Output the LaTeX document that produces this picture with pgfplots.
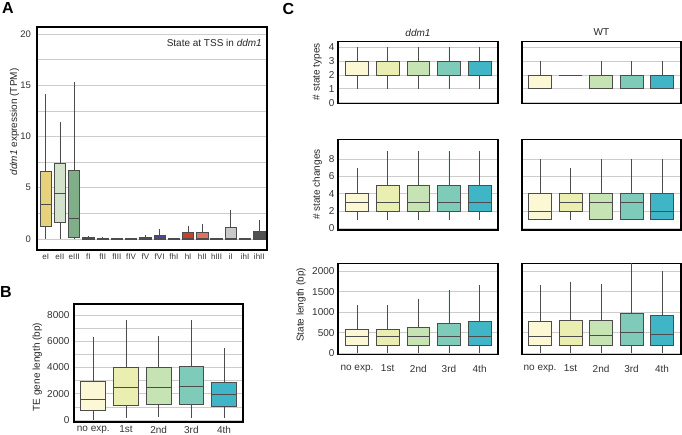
\documentclass[border=0pt]{standalone}
\usepackage{pgfplots}
\pgfplotsset{compat=1.18}
\usepgfplotslibrary{statistics}
\usepackage{fontspec}
\setmainfont{Liberation Sans}
\setsansfont{Liberation Sans}
\definecolor{cNo}{HTML}{FCF7D5}
\definecolor{cA}{HTML}{EAEEB0}
\definecolor{cB}{HTML}{C6E3B3}
\definecolor{cC}{HTML}{7FCBB9}
\definecolor{cD}{HTML}{3FB5C6}
\definecolor{eI}{HTML}{E6D27C}
\definecolor{eII}{HTML}{D2E2CB}
\definecolor{eIII}{HTML}{7FAE88}
\definecolor{fI}{HTML}{8A9C9E}
\definecolor{fII}{HTML}{5A5F63}
\definecolor{fIII}{HTML}{555555}
\definecolor{fIV}{HTML}{5A5A6A}
\definecolor{fV}{HTML}{7B6CBB}
\definecolor{fVI}{HTML}{5A3B9F}
\definecolor{fhI}{HTML}{666666}
\definecolor{hI}{HTML}{C7412D}
\definecolor{hII}{HTML}{E0725F}
\definecolor{hIII}{HTML}{444444}
\definecolor{iI}{HTML}{C9C9C9}
\definecolor{ihI}{HTML}{555555}
\definecolor{ihII}{HTML}{505050}
\begin{document}
\begin{tikzpicture}
\useasboundingbox (0pt,0pt) rectangle (682pt,435pt);
\pgfplotsset{
  panel/.style={scale only axis, anchor=south west,
    axis line style={black, line width=1.2pt},
    ymajorgrids, yminorgrids,
    major grid style={black!20, line width=0.7pt},
    minor grid style={black!20, line width=0.7pt},
    major tick length=0pt, minor tick length=0pt,
    tick style={draw=none},
    ticklabel style={font=\fontsize{10}{12}\selectfont, text=black!80},
    xtick={1,2,3,4,5},
    boxplot/draw direction=y, boxplot/whisker extend=0,
    /pgf/number format/assume math mode=true,
    /pgf/number format/1000 sep={},
    scaled y ticks=false},
  bx/.style={draw=black!70, line width=0.8pt, fill=#1},
}
% ---------------- Panel A
\begin{axis}[panel, at={(37pt,185pt)}, width=230pt, height=223pt,
  xmin=0.39, xmax=16.54, ymin=-1.07, ymax=20.68,
  ytick={0,5,10,15,20}, minor ytick={2.5,7.5,12.5,17.5},
  xtick={1,...,16},
  xticklabels={eI,eII,eIII,fI,fII,fIII,fIV,fV,fVI,fhI,hI,hII,hIII,iI,ihI,ihII},
  xticklabel style={font=\fontsize{8}{9}\selectfont},
  yticklabel style={font=\fontsize{9.5}{11}\selectfont, xshift=-2.5pt},
  boxplot/box extend=0.8]
\addplot[bx=eI, boxplot prepared={draw position=1, lower whisker=0, lower quartile=1.2, median=3.4, upper quartile=6.6, upper whisker=14.1}] coordinates {};
\addplot[bx=eII, boxplot prepared={draw position=2, lower whisker=0, lower quartile=1.65, median=4.45, upper quartile=7.4, upper whisker=11.45}] coordinates {};
\addplot[bx=eIII, boxplot prepared={draw position=3, lower whisker=0, lower quartile=0.2, median=2.05, upper quartile=6.65, upper whisker=15.3}] coordinates {};
\addplot[bx=fI, boxplot prepared={draw position=4, lower whisker=0, lower quartile=0, median=0.05, upper quartile=0.15, upper whisker=0.3}] coordinates {};
\addplot[bx=fII, boxplot prepared={draw position=5, lower whisker=0, lower quartile=0, median=0.03, upper quartile=0.1, upper whisker=0.2}] coordinates {};
\addplot[bx=fIII, boxplot prepared={draw position=6, lower whisker=0, lower quartile=0, median=0, upper quartile=0.03, upper whisker=0.05}] coordinates {};
\addplot[bx=fIV, boxplot prepared={draw position=7, lower whisker=0, lower quartile=0, median=0.01, upper quartile=0.05, upper whisker=0.08}] coordinates {};
\addplot[bx=fV, boxplot prepared={draw position=8, lower whisker=0, lower quartile=0, median=0.05, upper quartile=0.2, upper whisker=0.35}] coordinates {};
\addplot[bx=fVI, boxplot prepared={draw position=9, lower whisker=0, lower quartile=0, median=0.1, upper quartile=0.4, upper whisker=0.95}] coordinates {};
\addplot[bx=fhI, boxplot prepared={draw position=10, lower whisker=0, lower quartile=0, median=0, upper quartile=0.02, upper whisker=0.04}] coordinates {};
\addplot[bx=hI, boxplot prepared={draw position=11, lower whisker=0, lower quartile=0, median=0.05, upper quartile=0.6, upper whisker=1.25}] coordinates {};
\addplot[bx=hII, boxplot prepared={draw position=12, lower whisker=0, lower quartile=0, median=0.1, upper quartile=0.6, upper whisker=1.5}] coordinates {};
\addplot[bx=hIII, boxplot prepared={draw position=13, lower whisker=0, lower quartile=0, median=0, upper quartile=0.05, upper whisker=0.1}] coordinates {};
\addplot[bx=iI, boxplot prepared={draw position=14, lower whisker=0, lower quartile=0, median=0.1, upper quartile=1.15, upper whisker=2.85}] coordinates {};
\addplot[bx=ihI, boxplot prepared={draw position=15, lower whisker=0, lower quartile=0, median=0, upper quartile=0.02, upper whisker=0.04}] coordinates {};
\addplot[bx=ihII, boxplot prepared={draw position=16, lower whisker=0, lower quartile=0, median=0.1, upper quartile=0.7, upper whisker=1.85}] coordinates {};
\end{axis}
% ---------------- Panel B
\begin{axis}[panel, at={(74pt,13pt)}, width=169pt, height=118pt,
  xmin=0.41, xmax=5.58, ymin=-150, ymax=8840,
  ytick={0,2000,4000,6000,8000}, minor ytick={1000,3000,5000,7000},
  xticklabels={no exp.,1st,2nd,3rd,4th},
  xticklabel style={yshift=-0.5pt}, yticklabel style={xshift=-1pt},
  boxplot/box extend=0.76]
\addplot[bx=cNo, boxplot prepared={draw position=1, lower whisker=0, lower quartile=700, median=1550, upper quartile=2980, upper whisker=6300}] coordinates {};
\addplot[bx=cA, boxplot prepared={draw position=2, lower whisker=150, lower quartile=1150, median=2500, upper quartile=4000, upper whisker=7600}] coordinates {};
\addplot[bx=cB, boxplot prepared={draw position=3, lower whisker=200, lower quartile=1200, median=2500, upper quartile=4000, upper whisker=6400}] coordinates {};
\addplot[bx=cC, boxplot prepared={draw position=4, lower whisker=150, lower quartile=1200, median=2550, upper quartile=4080, upper whisker=7600}] coordinates {};
\addplot[bx=cD, boxplot prepared={draw position=5, lower whisker=150, lower quartile=1050, median=1980, upper quartile=2900, upper whisker=5500}] coordinates {};
\end{axis}
% ---------------- Panel C, row 1 (state types)
\begin{axis}[panel, at={(338pt,331.7pt)}, width=160pt, height=61.6pt,
  xmin=0.38, xmax=5.6, ymin=-0.05, ymax=4.42, ytick={0,1,2,3,4},
  xticklabels={}, boxplot/box extend=0.74]
\addplot[bx=cNo, boxplot prepared={draw position=1, lower whisker=1, lower quartile=2, median=2, upper quartile=3, upper whisker=4}] coordinates {};
\addplot[bx=cA, boxplot prepared={draw position=2, lower whisker=1, lower quartile=2, median=2, upper quartile=3, upper whisker=4}] coordinates {};
\addplot[bx=cB, boxplot prepared={draw position=3, lower whisker=1, lower quartile=2, median=2, upper quartile=3, upper whisker=4}] coordinates {};
\addplot[bx=cC, boxplot prepared={draw position=4, lower whisker=1, lower quartile=2, median=2, upper quartile=3, upper whisker=4}] coordinates {};
\addplot[bx=cD, boxplot prepared={draw position=5, lower whisker=1, lower quartile=2, median=2, upper quartile=3, upper whisker=4}] coordinates {};
\end{axis}
\begin{axis}[panel, at={(522pt,331.7pt)}, width=159pt, height=61.6pt,
  xmin=0.41, xmax=5.62, ymin=-0.05, ymax=4.42, ytick={0,1,2,3,4},
  xticklabels={}, yticklabels={}, boxplot/box extend=0.76]
\addplot[bx=cNo, boxplot prepared={draw position=1, lower whisker=1, lower quartile=1, median=2, upper quartile=2, upper whisker=3}] coordinates {};
\addplot[bx=cA, boxplot prepared={draw position=2, lower whisker=2, lower quartile=2, median=2, upper quartile=2, upper whisker=2}] coordinates {};
\addplot[bx=cB, boxplot prepared={draw position=3, lower whisker=1, lower quartile=1, median=2, upper quartile=2, upper whisker=3}] coordinates {};
\addplot[bx=cC, boxplot prepared={draw position=4, lower whisker=1, lower quartile=1, median=2, upper quartile=2, upper whisker=3}] coordinates {};
\addplot[bx=cD, boxplot prepared={draw position=5, lower whisker=1, lower quartile=1, median=2, upper quartile=2, upper whisker=3}] coordinates {};
\end{axis}
% ---------------- Panel C, row 2 (state changes)
\begin{axis}[panel, at={(338pt,205pt)}, width=160pt, height=90.7pt,
  xmin=0.38, xmax=5.6, ymin=-0.2, ymax=10.3, ytick={0,2,4,6,8},
  xticklabels={}, boxplot/box extend=0.74]
\addplot[bx=cNo, boxplot prepared={draw position=1, lower whisker=1, lower quartile=2, median=3, upper quartile=4, upper whisker=7}] coordinates {};
\addplot[bx=cA, boxplot prepared={draw position=2, lower whisker=1, lower quartile=2, median=3, upper quartile=5, upper whisker=9}] coordinates {};
\addplot[bx=cB, boxplot prepared={draw position=3, lower whisker=1, lower quartile=2, median=3, upper quartile=5, upper whisker=9}] coordinates {};
\addplot[bx=cC, boxplot prepared={draw position=4, lower whisker=1, lower quartile=2, median=3, upper quartile=5, upper whisker=9}] coordinates {};
\addplot[bx=cD, boxplot prepared={draw position=5, lower whisker=1, lower quartile=2, median=3, upper quartile=5, upper whisker=9}] coordinates {};
\end{axis}
\begin{axis}[panel, at={(522pt,205pt)}, width=159pt, height=90.7pt,
  xmin=0.41, xmax=5.62, ymin=-0.2, ymax=10.3, ytick={0,2,4,6,8},
  xticklabels={}, yticklabels={}, boxplot/box extend=0.76]
\addplot[bx=cNo, boxplot prepared={draw position=1, lower whisker=1, lower quartile=1, median=2, upper quartile=4, upper whisker=8}] coordinates {};
\addplot[bx=cA, boxplot prepared={draw position=2, lower whisker=1, lower quartile=2, median=3, upper quartile=4, upper whisker=7}] coordinates {};
\addplot[bx=cB, boxplot prepared={draw position=3, lower whisker=1, lower quartile=1, median=3, upper quartile=4, upper whisker=8}] coordinates {};
\addplot[bx=cC, boxplot prepared={draw position=4, lower whisker=1, lower quartile=1, median=3, upper quartile=4, upper whisker=8}] coordinates {};
\addplot[bx=cD, boxplot prepared={draw position=5, lower whisker=1, lower quartile=1, median=2, upper quartile=4, upper whisker=8}] coordinates {};
\end{axis}
% ---------------- Panel C, row 3 (state length)
\begin{axis}[panel, at={(338pt,80.7pt)}, width=160pt, height=91pt,
  xmin=0.38, xmax=5.6, ymin=-25, ymax=2187, ytick={0,500,1000,1500,2000},
  xticklabels={no exp.,1st,2nd,3rd,4th}, xticklabel style={yshift=-7pt},
  boxplot/box extend=0.74]
\addplot[bx=cNo, boxplot prepared={draw position=1, lower whisker=0, lower quartile=190, median=400, upper quartile=590, upper whisker=1180}] coordinates {};
\addplot[bx=cA, boxplot prepared={draw position=2, lower whisker=0, lower quartile=190, median=400, upper quartile=590, upper whisker=1180}] coordinates {};
\addplot[bx=cB, boxplot prepared={draw position=3, lower whisker=0, lower quartile=190, median=400, upper quartile=640, upper whisker=1330}] coordinates {};
\addplot[bx=cC, boxplot prepared={draw position=4, lower whisker=0, lower quartile=190, median=400, upper quartile=730, upper whisker=1540}] coordinates {};
\addplot[bx=cD, boxplot prepared={draw position=5, lower whisker=0, lower quartile=190, median=400, upper quartile=770, upper whisker=1650}] coordinates {};
\end{axis}
\begin{axis}[panel, at={(522pt,80.7pt)}, width=159pt, height=91pt,
  xmin=0.41, xmax=5.62, ymin=-25, ymax=2187, ytick={0,500,1000,1500,2000},
  xticklabels={no exp.,1st,2nd,3rd,4th}, xticklabel style={yshift=-7pt},
  yticklabels={}, boxplot/box extend=0.76]
\addplot[bx=cNo, boxplot prepared={draw position=1, lower whisker=0, lower quartile=190, median=400, upper quartile=770, upper whisker=1660}] coordinates {};
\addplot[bx=cA, boxplot prepared={draw position=2, lower whisker=0, lower quartile=190, median=400, upper quartile=800, upper whisker=1730}] coordinates {};
\addplot[bx=cB, boxplot prepared={draw position=3, lower whisker=0, lower quartile=190, median=440, upper quartile=790, upper whisker=1680}] coordinates {};
\addplot[bx=cC, boxplot prepared={draw position=4, lower whisker=0, lower quartile=190, median=510, upper quartile=970, upper whisker=2300}] coordinates {};
\addplot[bx=cD, boxplot prepared={draw position=5, lower whisker=0, lower quartile=190, median=470, upper quartile=910, upper whisker=1990}] coordinates {};
\end{axis}
% ---------------- Text
\begin{scope}[every node/.style={font=\fontsize{10}{12}\selectfont, text=black!85, inner sep=0pt}]
\node[anchor=east] at (262pt,392pt) {State at TSS in \textit{ddm1}};
\node[rotate=90] at (14.5pt,313pt) {\textit{ddm1} expression (TPM)};
\node[rotate=90] at (37.3pt,68pt) {TE gene length (bp)};
\node[rotate=90] at (317.3pt,363.3pt) {\# state types};
\node[rotate=90] at (317.3pt,250.3pt) {\# state changes};
\node[rotate=90] at (301pt,130pt) {State length (bp)};
\node at (418pt,402pt) {\textit{ddm1}};
\node at (601.5pt,402.5pt) {WT};
\end{scope}
\begin{scope}[every node/.style={font=\bfseries\fontsize{16}{18}\selectfont, inner sep=0pt}]
\node at (8pt,426.7pt) {A};
\node at (6pt,142.5pt) {B};
\node at (288.3pt,425.5pt) {C};
\end{scope}
\end{tikzpicture}
\end{document}
